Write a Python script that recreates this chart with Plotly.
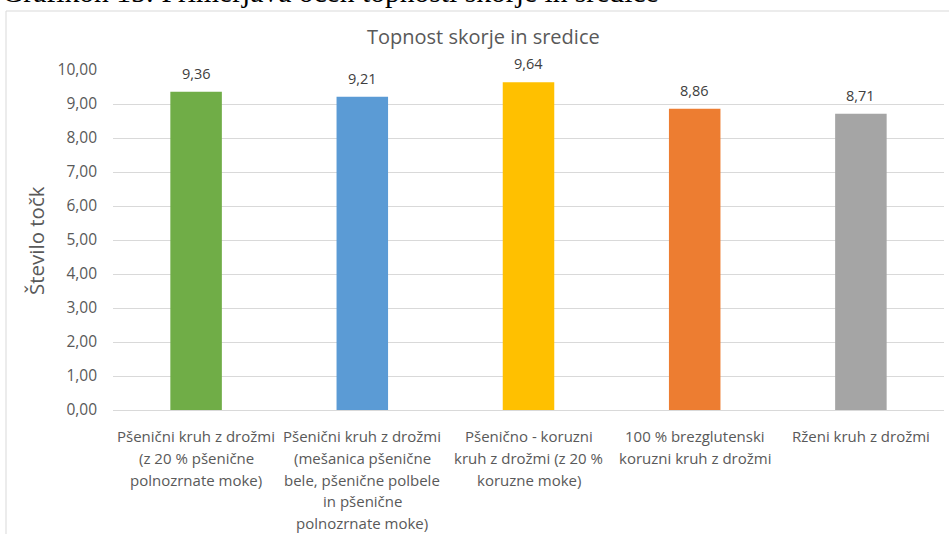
import plotly.graph_objects as go

# Bread samples and their mean scores for crust/crumb solubility
category_lines = [
    ["Pšenični kruh z drožmi", "(z 20 % pšenične", "polnozrnate moke)"],
    ["Pšenični kruh z drožmi", "(mešanica pšenične", "bele, pšenične polbele", "in pšenične", "polnozrnate moke)"],
    ["Pšenično - koruzni", "kruh z drožmi (z 20 %", "koruzne moke)"],
    ["100 % brezglutenski", "koruzni kruh z drožmi"],
    ["Rženi kruh z drožmi"],
]
scores = [9.36, 9.21, 9.64, 8.86, 8.71]
bar_colors = ["#70AD47", "#5B9BD5", "#FFC000", "#ED7D31", "#A5A5A5"]
y_ticks = [0, 1, 2, 3, 4, 5, 6, 7, 8, 9, 10]

categories = [lines[0] + " #" + str(i) for i, lines in enumerate(category_lines)]

FONT = "Open Sans, Lato, sans-serif"
GREY = "#595959"

fig = go.Figure(
    go.Bar(
        x=categories,
        y=scores,
        marker=dict(color=bar_colors, line=dict(width=0)),
        width=0.31,
        hoverinfo="y",
    )
)

annotations = []
# value labels above each bar
for cat, v in zip(categories, scores):
    annotations.append(dict(
        x=cat, xref="x", y=v, yref="y",
        yanchor="bottom", xanchor="center", yshift=7,
        text=f"{v:.2f}".replace(".", ","), showarrow=False,
        font=dict(family=FONT, size=14.5, color="#404040"),
    ))

# multi-line category labels under each bar
for cat, lines in zip(categories, category_lines):
    for j, line in enumerate(lines):
        annotations.append(dict(
            x=cat, xref="x", y=0, yref="paper",
            yanchor="middle", xanchor="center",
            yshift=-26 - 21.8 * j,
            text=line, showarrow=False,
            font=dict(family=FONT, size=15, color=GREY),
        ))

W, H = 949, 534
L, R, T, B = 113, 5, 70, 124
pw, ph = W - L - R, H - T - B


def px_x(px):
    return (px - L) / pw


def px_y(py):
    return (H - B - py) / ph


# chart title
annotations.append(dict(
    x=px_x(483), y=px_y(37), xref="paper", yref="paper",
    xanchor="center", yanchor="middle", showarrow=False,
    text="Topnost skorje in sredice",
    font=dict(family=FONT, size=20, color=GREY),
))
# y-axis title
annotations.append(dict(
    x=px_x(36), y=px_y(241), xref="paper", yref="paper",
    xanchor="center", yanchor="middle", showarrow=False,
    text="Število točk", textangle=-90,
    font=dict(family=FONT, size=20.5, color=GREY),
))
# document caption above the chart frame
annotations.append(dict(
    x=px_x(0), y=px_y(-8), xref="paper", yref="paper",
    xanchor="left", yanchor="middle", showarrow=False,
    text="Grafikon 15: Primerjava ocen topnosti skorje in sredice",
    font=dict(family="Liberation Serif, Times New Roman, serif", size=29.6, color="#000000"),
))

fig.update_layout(
    width=W, height=H,
    margin=dict(l=L, r=R, t=T, b=B),
    paper_bgcolor="white", plot_bgcolor="white",
    separators=",.",
    showlegend=False,
    annotations=annotations,
    shapes=[dict(
        type="rect", xref="paper", yref="paper",
        x0=px_x(6), x1=px_x(960), y0=px_y(560), y1=px_y(11),
        line=dict(color="#D9D9D9", width=1), fillcolor="rgba(0,0,0,0)", layer="below",
    )],
    xaxis=dict(
        showticklabels=False, showgrid=False, zeroline=False,
        showline=True, linecolor="#D9D9D9", linewidth=1,
        range=[-0.5, 4.5],
    ),
    yaxis=dict(
        range=[0, 10], tickvals=y_ticks, tickformat=".2f",
        showgrid=True, gridcolor="#D9D9D9", gridwidth=1,
        zeroline=False, showline=False,
        tickfont=dict(family=FONT, size=15.5, color=GREY),
        ticklabelstandoff=15,
    ),
)

fig.write_html("out.html")
